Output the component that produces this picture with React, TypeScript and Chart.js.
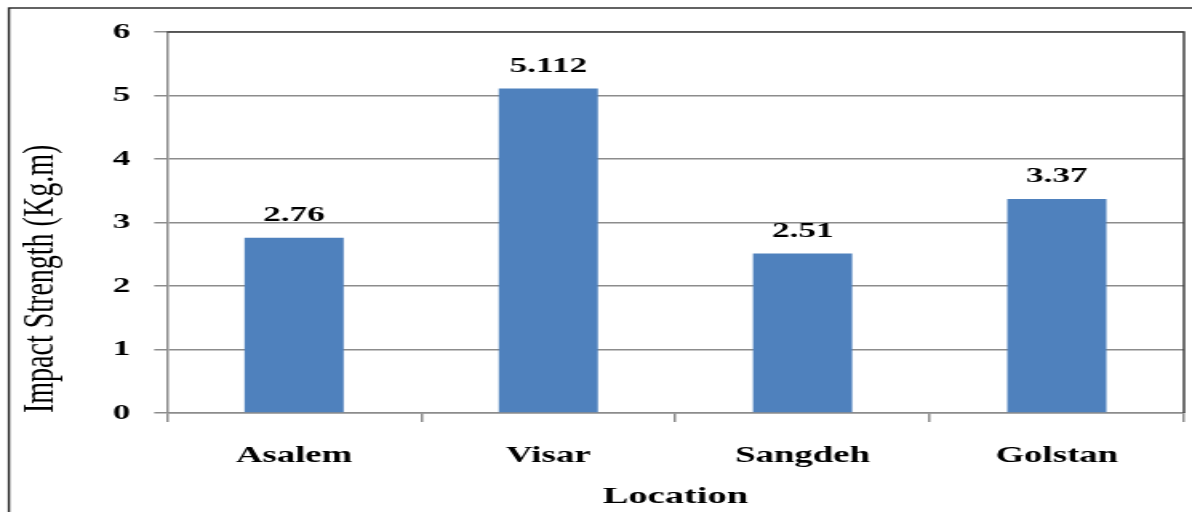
import React, { useEffect, useRef } from "react";
import { Chart, registerables } from "chart.js";

Chart.register(...registerables);

// ---- data ----
const categories = ["Asalem", "Visar", "Sangdeh", "Golstan"];
const impactStrength = [2.76, 5.112, 2.51, 3.37];
const yMin = 0;
const yMax = 6;
const yStep = 1;
const xTitle = "Location";
const yTitle = "Impact Strength (Kg.m)";

// ---- presentation ----
const FONT = "'Liberation Serif', 'Times New Roman', serif";
const SX = 1.6; // the reference picture is stretched horizontally
const W = 1192;
const H = 512;
const CW = Math.round(W / SX);

const framePlugin = {
  id: "frame",
  afterDatasetsDraw(chart: any) {
    const { ctx } = chart;
    const meta = chart.getDatasetMeta(0);
    ctx.save();
    ctx.font = `bold 22px ${FONT}`;
    ctx.textAlign = "center";
    ctx.textBaseline = "middle";
    ctx.fillStyle = "#000";
    meta.data.forEach((bar: any, i: number) => {
      ctx.fillText(String(impactStrength[i]), bar.x, bar.y - 22.5);
    });
    ctx.restore();
  },
  afterDraw(chart: any) {
    const { ctx, chartArea: a } = chart;
    ctx.save();
    ctx.strokeStyle = "#404040";
    ctx.lineWidth = 1.5;
    ctx.beginPath();
    ctx.moveTo(a.left, a.top);
    ctx.lineTo(a.right, a.top);
    ctx.lineTo(a.right, a.bottom);
    ctx.stroke();
    ctx.strokeStyle = "#222";
    ctx.lineWidth = 1.4;
    ctx.strokeRect(5.6, 8, CW + 20, H + 20);
    ctx.restore();
  },
};

export default function App() {
  const ref = useRef<HTMLCanvasElement | null>(null);

  useEffect(() => {
    if (!ref.current) return;
    const chart = new Chart(ref.current, {
      type: "bar",
      data: {
        labels: categories,
        datasets: [
          {
            data: impactStrength,
            backgroundColor: "#4f81bd",
            borderWidth: 0,
            barPercentage: 0.39,
            categoryPercentage: 1,
          },
        ],
      },
      options: {
        responsive: false,
        animation: false,
        devicePixelRatio: 1,
        layout: { padding: { left: 0, right: CW - 1184 / SX, top: 32, bottom: 0 } },
        plugins: {
          legend: { display: false },
          tooltip: { enabled: false },
          title: { display: false },
        },
        scales: {
          x: {
            grid: {
              offset: true,
              drawOnChartArea: false,
              drawTicks: true,
              tickLength: 9,
              color: "#8c8c8c",
              lineWidth: 1.5,
            },
            border: { display: true, color: "#8c8c8c", width: 1.5 },
            ticks: {
              color: "#000",
              font: { family: FONT, size: 23, weight: "bold" },
              padding: 20,
              maxRotation: 0,
              autoSkip: false,
            },
            title: {
              display: true,
              text: xTitle,
              color: "#000",
              font: { family: FONT, size: 24, weight: "bold" },
              padding: { top: 0, bottom: 0.6 },
            },
            afterFit: (s: any) => {
              s.height = H - 413;
            },
          },
          y: {
            min: yMin,
            max: yMax,
            ticks: {
              stepSize: yStep,
              color: "#000",
              font: { family: FONT, size: 22, weight: "bold" },
              padding: 15,
            },
            grid: {
              color: "#8c8c8c",
              lineWidth: 1.5,
              tickLength: 8,
              drawTicks: true,
            },
            border: { display: true, color: "#8c8c8c", width: 1.5 },
            title: {
              display: true,
              text: yTitle,
              align: "start",
              color: "#000",
              font: { family: FONT, size: 28, weight: "normal" },
              padding: { top: 9, bottom: 0 },
            },
            afterFit: (s: any) => {
              s.width = 167 / SX;
            },
          },
        },
      } as any,
      plugins: [framePlugin],
    });
    return () => chart.destroy();
  }, []);

  return (
    <div style={{ position: "absolute", left: 0, top: 0, width: W, height: H, background: "#fff" }}>
      <canvas
        ref={ref}
        width={CW}
        height={H}
        style={{ width: W, height: H, display: "block" }}
      />
    </div>
  );
}
